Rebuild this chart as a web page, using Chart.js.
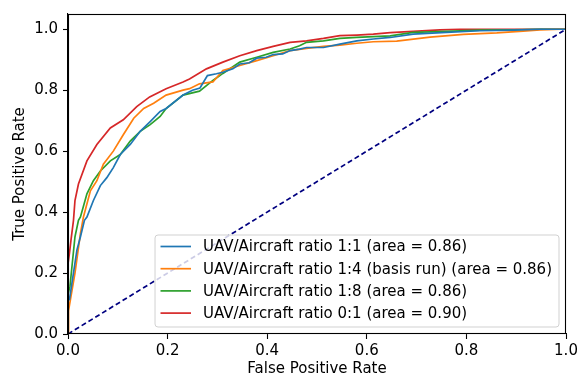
<!DOCTYPE html>
<html>
<head>
<meta charset="utf-8">
<script src="https://cdn.jsdelivr.net/npm/chart.js@4/dist/chart.umd.min.js"></script>
<style>
  html, body { margin: 0; padding: 0; background: #ffffff; }
  #wrap { width: 585px; height: 378px; position: relative; }
</style>
</head>
<body>
<div id="wrap"><canvas id="roc"></canvas></div>
<script>
// ROC curves: false positive rate (x) vs true positive rate (y) for each training mix
const seriesLabels = [
  'UAV/Aircraft ratio 1:1 (area = 0.86)',
  'UAV/Aircraft ratio 1:4 (basis run) (area = 0.86)',
  'UAV/Aircraft ratio 1:8 (area = 0.86)',
  'UAV/Aircraft ratio 0:1 (area = 0.90)'
];
const seriesColors = ['#1f77b4', '#ff7f0e', '#2ca02c', '#d62728'];

const fpr11 = [0, 0, 0.003, 0.018, 0.025, 0.033, 0.038, 0.051, 0.065, 0.078, 0.091, 0.105, 0.125, 0.145, 0.165, 0.185, 0.197, 0.231, 0.250, 0.265, 0.280, 0.298, 0.311, 0.331, 0.345, 0.364, 0.379, 0.398, 0.412, 0.431, 0.446, 0.465, 0.479, 0.513, 0.546, 0.580, 0.613, 0.647, 0.693, 0.760, 0.827, 0.894, 0.948, 1.0];
const tpr11 = [0, 0.11, 0.114, 0.276, 0.319, 0.373, 0.384, 0.438, 0.487, 0.513, 0.546, 0.589, 0.622, 0.665, 0.697, 0.730, 0.740, 0.784, 0.800, 0.807, 0.848, 0.854, 0.859, 0.870, 0.886, 0.890, 0.905, 0.908, 0.917, 0.919, 0.930, 0.935, 0.940, 0.940, 0.951, 0.962, 0.968, 0.973, 0.984, 0.990, 0.995, 0.997, 1.0, 1.0];

const fpr14 = [0, 0, 0.002, 0.014, 0.025, 0.031, 0.045, 0.058, 0.071, 0.091, 0.111, 0.132, 0.152, 0.172, 0.197, 0.231, 0.244, 0.264, 0.291, 0.311, 0.345, 0.379, 0.412, 0.446, 0.479, 0.513, 0.546, 0.580, 0.613, 0.660, 0.727, 0.794, 0.861, 0.914, 0.948, 0.990, 1.0];
const tpr14 = [0, 0.06, 0.076, 0.200, 0.330, 0.384, 0.470, 0.503, 0.557, 0.600, 0.654, 0.708, 0.740, 0.757, 0.784, 0.800, 0.805, 0.821, 0.827, 0.865, 0.881, 0.897, 0.913, 0.930, 0.937, 0.944, 0.948, 0.954, 0.959, 0.961, 0.974, 0.983, 0.988, 0.994, 0.998, 1.0, 1.0];

const fpr18 = [0, 0, 0.004, 0.014, 0.021, 0.025, 0.038, 0.051, 0.065, 0.085, 0.105, 0.125, 0.145, 0.165, 0.185, 0.197, 0.231, 0.264, 0.291, 0.311, 0.345, 0.379, 0.412, 0.446, 0.465, 0.479, 0.513, 0.546, 0.580, 0.613, 0.647, 0.693, 0.760, 0.827, 0.894, 0.950, 1.0];
const tpr18 = [0, 0.13, 0.157, 0.319, 0.373, 0.384, 0.460, 0.503, 0.535, 0.568, 0.589, 0.633, 0.665, 0.687, 0.714, 0.740, 0.784, 0.797, 0.832, 0.855, 0.892, 0.908, 0.924, 0.935, 0.946, 0.957, 0.962, 0.970, 0.973, 0.976, 0.978, 0.990, 0.993, 0.997, 0.998, 1.0, 1.0];

const fpr01 = [0, 0, 0.003, 0.006, 0.011, 0.014, 0.021, 0.038, 0.058, 0.085, 0.111, 0.138, 0.164, 0.197, 0.231, 0.244, 0.278, 0.311, 0.345, 0.379, 0.412, 0.446, 0.479, 0.513, 0.546, 0.580, 0.613, 0.647, 0.693, 0.747, 0.787, 1.0];
const tpr01 = [0, 0.23, 0.266, 0.308, 0.373, 0.438, 0.492, 0.568, 0.622, 0.676, 0.703, 0.746, 0.778, 0.805, 0.827, 0.837, 0.870, 0.892, 0.913, 0.930, 0.944, 0.957, 0.962, 0.970, 0.979, 0.981, 0.984, 0.989, 0.993, 0.998, 1.0, 1.0];

// chance line
const chanceX = [0, 1];
const chanceY = [0, 1];

const tickValues = [0, 0.2, 0.4, 0.6, 0.8, 1.0];

const FONT = 'DejaVu Sans';
const FS = 15;

function pairs(xs, ys) {
  return xs.map((x, i) => ({ x: x, y: ys[i] }));
}

const curves = [[fpr11, tpr11], [fpr14, tpr14], [fpr18, tpr18], [fpr01, tpr01]];
const datasets = curves.map((c, i) => ({
  label: seriesLabels[i],
  data: pairs(c[0], c[1]),
  borderColor: seriesColors[i],
  backgroundColor: seriesColors[i],
  borderWidth: 1.7,
  pointRadius: 0,
  tension: 0,
  fill: false
}));
datasets.push({
  label: '_chance',
  data: pairs(chanceX, chanceY),
  borderColor: '#000080',
  borderWidth: 1.7,
  borderDash: [5, 3],
  pointRadius: 0,
  fill: false
});

// frame around the plotting area plus the boxed legend at lower right
const framePlugin = {
  id: 'frameAndLegend',
  afterDatasetsDraw(chart) {
    const ctx = chart.ctx;
    const a = chart.chartArea;
    ctx.save();
    // legend
    ctx.font = FS + 'px "' + FONT + '"';
    const items = chart.data.datasets.filter(d => !d.label.startsWith('_'));
    let tw = 0;
    items.forEach(d => { tw = Math.max(tw, ctx.measureText(d.label).width); });
    const pad = 5.5, handle = 30.5, gap = 12, rowH = 22.2;
    const boxW = pad + handle + gap + tw + 7;
    const boxH = 92;
    const boxR = a.right - 7;
    const boxL = boxR - boxW;
    const boxB = a.bottom - 7;
    const boxT = boxB - boxH;
    const r = 3;
    ctx.beginPath();
    ctx.moveTo(boxL + r, boxT);
    ctx.lineTo(boxL + boxW - r, boxT);
    ctx.quadraticCurveTo(boxL + boxW, boxT, boxL + boxW, boxT + r);
    ctx.lineTo(boxL + boxW, boxB - r);
    ctx.quadraticCurveTo(boxL + boxW, boxB, boxL + boxW - r, boxB);
    ctx.lineTo(boxL + r, boxB);
    ctx.quadraticCurveTo(boxL, boxB, boxL, boxB - r);
    ctx.lineTo(boxL, boxT + r);
    ctx.quadraticCurveTo(boxL, boxT, boxL + r, boxT);
    ctx.closePath();
    ctx.fillStyle = 'rgba(255,255,255,0.8)';
    ctx.fill();
    ctx.strokeStyle = 'rgba(204,204,204,0.9)';
    ctx.lineWidth = 1;
    ctx.stroke();
    items.forEach((d, i) => {
      const cy = boxT + 11.5 + i * rowH;
      ctx.beginPath();
      ctx.moveTo(boxL + pad, cy);
      ctx.lineTo(boxL + pad + handle, cy);
      ctx.strokeStyle = d.borderColor;
      ctx.lineWidth = 1.7;
      ctx.stroke();
      ctx.fillStyle = '#000000';
      ctx.textBaseline = 'middle';
      ctx.textAlign = 'left';
      ctx.fillText(d.label, boxL + pad + handle + gap, cy + 1);
    });
    // frame
    ctx.strokeStyle = '#000000';
    ctx.lineWidth = 1.1;
    ctx.strokeRect(Math.round(a.left) + 0.5, Math.round(a.top) + 0.5,
                   Math.round(a.right - a.left) - 1, Math.round(a.bottom - a.top) - 1);
    ctx.restore();
  }
};

const axisCommon = {
  type: 'linear',
  border: { display: true, color: '#000000', width: 1.1 },
  grid: { display: true, drawOnChartArea: false, drawTicks: true, tickLength: 5, color: '#000000', tickWidth: 1.1 },
  afterBuildTicks: s => { s.ticks = tickValues.map(v => ({ value: v })); }
};

new Chart(document.getElementById('roc'), {
  type: 'line',
  data: { datasets: datasets },
  plugins: [framePlugin],
  options: {
    responsive: true,
    maintainAspectRatio: false,
    animation: false,
    parsing: true,
    layout: { padding: { top: 11, right: 19, left: 0, bottom: 0 } },
    plugins: { legend: { display: false }, tooltip: { enabled: false } },
    scales: {
      x: Object.assign({}, axisCommon, {
        min: 0, max: 1,
        afterFit: s => { s.height = 44; },
        ticks: { color: '#000000', font: { family: FONT, size: FS }, padding: 3, maxRotation: 0,
                 callback: v => Number(v).toFixed(1) },
        title: { display: true, text: 'False Positive Rate', color: '#000000',
                 font: { family: FONT, size: FS }, padding: { top: 0, bottom: 0 } }
      }),
      y: Object.assign({}, axisCommon, {
        min: 0, max: 1.05,
        afterFit: s => { s.width = 68; },
        ticks: { color: '#000000', font: { family: FONT, size: FS }, padding: 5,
                 callback: v => Number(v).toFixed(1) },
        title: { display: true, text: 'True Positive Rate', color: '#000000',
                 font: { family: FONT, size: FS }, padding: { top: 11, bottom: 0 } }
      })
    }
  }
});
</script>
</body>
</html>
